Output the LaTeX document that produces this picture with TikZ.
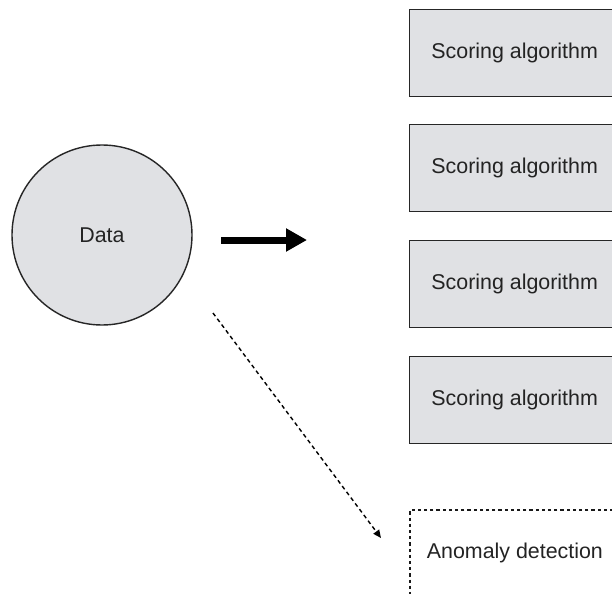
\documentclass[tikz,border=0pt]{standalone}
\usepackage{fontspec}
\setmainfont{Liberation Sans}
\usetikzlibrary{arrows.meta}

\definecolor{boxgray}{RGB}{224,225,228}
\definecolor{textgray}{RGB}{35,35,35}

\begin{document}
\begin{tikzpicture}[x=0.5pt, y=-0.5pt, font=\fontsize{10.7}{12}\selectfont, text=textgray,
  scorebox/.style={draw=black!85, line width=0.7pt, fill=boxgray, rectangle, minimum width=105pt, minimum height=43.5pt, anchor=north west}]

\useasboundingbox (0,0) rectangle (612,594);
\clip (0,0) rectangle (612,594);

% Donnees
\node[draw=black!85, line width=0.7pt, fill=boxgray, circle, minimum size=90pt] (data) at (102,235) {Data};

% Algorithmes de score
\node[scorebox] (score1) at (409,9) {Scoring algorithm};
\node[scorebox] (score2) at (409,124) {Scoring algorithm};
\node[scorebox] (score3) at (409,240) {Scoring algorithm};
\node[scorebox] (score4) at (409,356) {Scoring algorithm};

% Detection
\node[draw=black!90, line width=0.9pt, dash pattern=on 1.6pt off 1.5pt, rectangle, minimum width=105pt, minimum height=43.5pt, anchor=north west] (anomaly) at (409,509) {Anomaly detection};

% Fleches
\coordinate (feed start) at (221,240);
\coordinate (feed end) at (307,240);
\draw[line width=3.5pt, -{Triangle[length=10.5pt, width=11pt]}] (feed start) -- (feed end);

\coordinate (detect start) at (213,313);
\coordinate (detect end) at (381,538);
\draw[line width=0.7pt, dash pattern=on 2pt off 1.6pt, -{Triangle[length=4pt, width=3.5pt]}] (detect start) -- (detect end);

\end{tikzpicture}
\end{document}
